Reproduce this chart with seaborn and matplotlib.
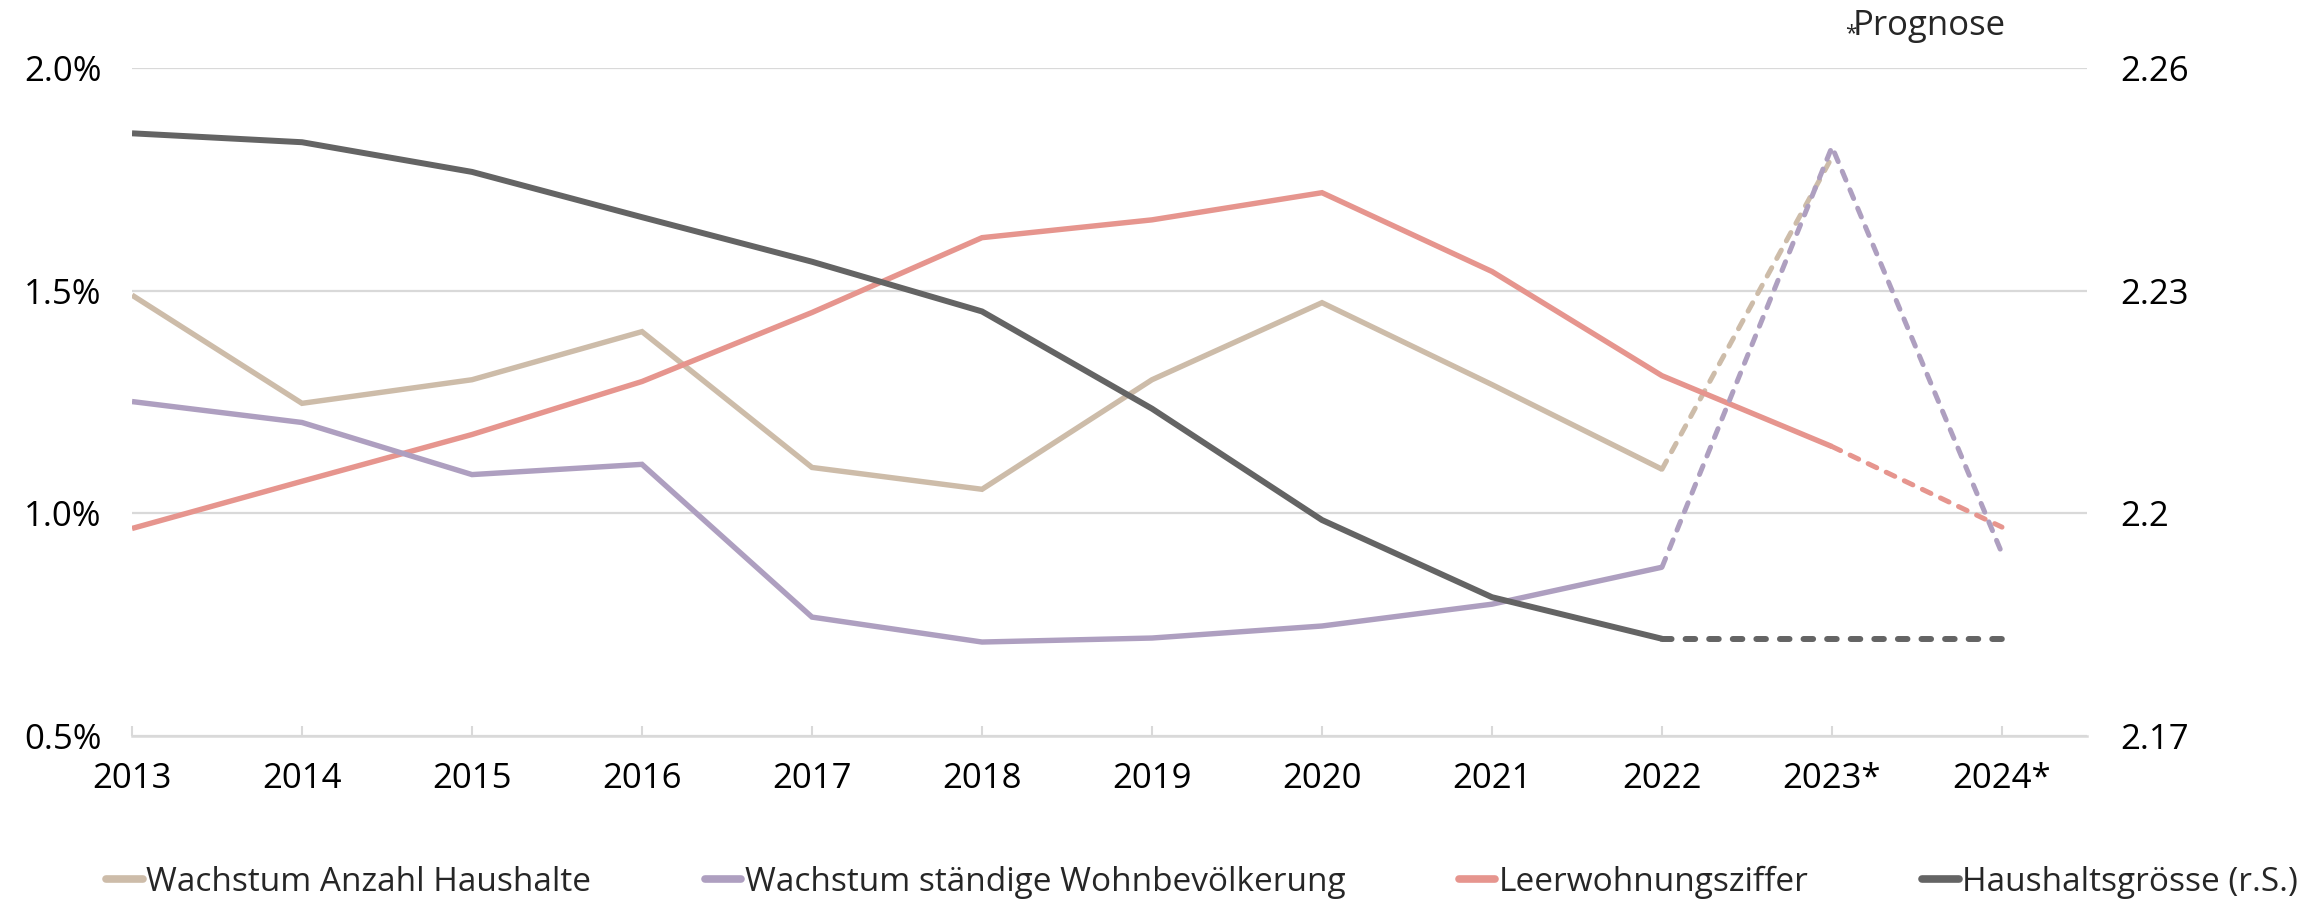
import numpy as np
import matplotlib.pyplot as plt
import seaborn as sns
from matplotlib.lines import Line2D

# data
years = ['2013', '2014', '2015', '2016', '2017', '2018', '2019', '2020', '2021', '2022', '2023*', '2024*']
hh_growth = [1.490, 1.247, 1.300, 1.408, 1.103, 1.054, 1.300, 1.473, 1.289, 1.099, 1.800, np.nan]
pop_growth = [1.251, 1.204, 1.087, 1.110, 0.767, 0.711, 0.720, 0.747, 0.796, 0.879, 1.823, 0.910]
vacancy = [0.966, 1.072, 1.177, 1.296, 1.451, 1.619, 1.659, 1.720, 1.543, 1.309, 1.150, 0.969]
hh_size = [2.2512, 2.2500, 2.2460, 2.2399, 2.2339, 2.2272, 2.2141, 2.1991, 2.1887, 2.1831, 2.1831, 2.1831]

left_ticks = [0.5, 1.0, 1.5, 2.0]
left_labels = ['0.5%', '1.0%', '1.5%', '2.0%']
right_ticks = [2.17, 2.20, 2.23, 2.26]
right_labels = ['2.17', '2.2', '2.23', '2.26']

labels = ['Wachstum Anzahl Haushalte', 'Wachstum ständige Wohnbevölkerung',
          'Leerwohnungsziffer', 'Haushaltsgrösse (r.S.)']
colors = ['#CDBCA9', '#AE9FC0', '#E6958E', '#646464']

sns.set_theme(style='white')
plt.rcParams['font.family'] = ['Open Sans', 'DejaVu Sans']
FS = 25

fig = plt.figure(figsize=(23.03, 9.02), dpi=100)
ax = fig.add_axes([132 / 2303, 1 - 736 / 902, (2087 - 132) / 2303, (736 - 68) / 902])
ax2 = ax.twinx()

x = np.arange(len(years))
LW = 3.9


def draw(axis, vals, color, split, lw=LW, dash_lw=3.6, dash=(1.9, 2.1)):
    # solid history part, dashed forecast part
    vals = np.array(vals, dtype=float)
    sns.lineplot(x=x[:split + 1], y=vals[:split + 1], ax=axis, color=color, lw=lw,
                 solid_capstyle='butt', solid_joinstyle='miter')
    m = ~np.isnan(vals[split:])
    line = sns.lineplot(x=x[split:][m], y=vals[split:][m], ax=axis, color=color, lw=dash_lw)
    line.lines[-1].set_dashes(dash)
    line.lines[-1].set_dash_capstyle('round')


draw(ax, hh_growth, colors[0], 9)
draw(ax, vacancy, colors[2], 10)
draw(ax, pop_growth, colors[1], 9)
draw(ax2, hh_size, colors[3], 9, lw=4.3, dash_lw=4.3, dash=(1.6, 2.35))

ax.set_xlim(0, 11.5)
ax.set_ylim(0.5, 2.0)
ax2.set_ylim(2.17, 2.26)

ax.set_yticks(left_ticks)
ax.set_yticklabels(left_labels, fontsize=FS)
ax2.set_yticks(right_ticks)
ax2.set_yticklabels(right_labels, fontsize=FS)
ax.set_xticks(x)
ax.set_xticklabels(years, fontsize=FS)

ax.grid(axis='y', color='#D9D9D9', lw=1.6)
ax.grid(axis='x', visible=False)
ax2.grid(False)
for a in (ax, ax2):
    for s in ['top', 'left', 'right', 'bottom']:
        a.spines[s].set_visible(False)
ax.spines['bottom'].set_visible(True)
ax.spines['bottom'].set_color('#D9D9D9')
ax.spines['bottom'].set_linewidth(1.8)

ax.tick_params(axis='x', direction='in', length=7, width=1.5, color='#D9D9D9',
               pad=19, labelcolor='black', bottom=True)
ax.tick_params(axis='y', length=0, pad=22, labelcolor='black')
ax2.tick_params(axis='y', length=0, pad=24, labelcolor='black')
ax.set_xlabel('')
ax.set_ylabel('')
ax2.set_ylabel('')

handles = [Line2D([0], [0], color=c, lw=5.5) for c in colors]
fig.legend(handles, labels, loc='center', bbox_to_anchor=(0.522, 1 - 882 / 902), ncol=4,
           frameon=False, fontsize=24, handlelength=1.1, handletextpad=0.1,
           columnspacing=3.4, borderaxespad=0)

fig.text(1845 / 2303, 1 - 34 / 902, '*', fontsize=15, va='center', ha='left')
fig.text(1853 / 2303, 1 - 26 / 902, 'Prognose', fontsize=FS, va='center', ha='left')

fig.savefig('out.png', dpi=100)
